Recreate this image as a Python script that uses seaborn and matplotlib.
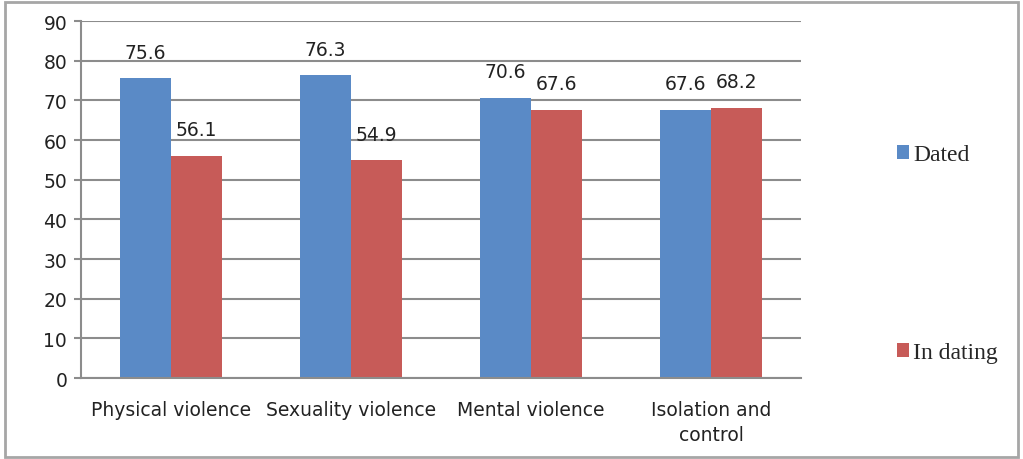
import matplotlib
matplotlib.use("Agg")
import matplotlib.pyplot as plt
import seaborn as sns
import pandas as pd
from matplotlib.patches import Rectangle

categories = ["Physical violence", "Sexuality violence", "Mental violence", "Isolation and\ncontrol"]
dated = [75.6, 76.3, 70.6, 67.6]
in_dating = [56.1, 54.9, 67.6, 68.2]
series_names = ["Dated", "In dating"]
colors = ["#5A8AC6", "#C75B58"]
yticks = [0, 10, 20, 30, 40, 50, 60, 70, 80, 90]

df = pd.DataFrame({
    "category": categories * 2,
    "value": dated + in_dating,
    "series": [series_names[0]] * len(categories) + [series_names[1]] * len(categories),
})

sns.set_theme(style="white")
plt.rcParams['font.family'] = ['DejaVu Sans']

fig = plt.figure(figsize=(10.23, 4.6), dpi=100)
ax = fig.add_axes([0.0792, 0.176, 0.7038, 0.776])

sns.barplot(data=df, x="category", y="value", hue="series", palette=colors,
            width=0.567, ax=ax, legend=True, saturation=1, linewidth=0)

gray = "#8c8c8c"
txt = "#222222"
fs = 13.5
ax.set_ylim(0, 90)
ax.set_xlim(-0.5, 3.5)
ax.set_yticks(yticks)
ax.set_yticklabels([str(t) for t in yticks], fontsize=fs, color=txt)
for t in yticks:
    ax.axhline(t, color=gray, lw=1.5, zorder=0)

ax.set_xticks([-0.5, 0.5, 1.5, 2.5, 3.5])
ax.set_xticklabels([])
ax.set_xticks(range(len(categories)), minor=True)
ax.set_xticklabels(categories, minor=True, fontsize=fs, color=txt, linespacing=1.4)
ax.tick_params(axis="x", which="minor", length=0, pad=16)
ax.tick_params(axis="x", which="major", length=7, width=1.5, color=gray, direction="out")
ax.tick_params(axis="y", length=5, width=1.5, color=gray, direction="out", left=True, pad=5)
ax.set_xlabel("")
ax.set_ylabel("")
for s in ["top", "right"]:
    ax.spines[s].set_visible(False)
for s in ["left", "bottom"]:
    ax.spines[s].set_color(gray)
    ax.spines[s].set_linewidth(1.5)

for cont in ax.containers:
    for bar in cont:
        h = bar.get_height()
        ax.annotate(f"{h:.1f}", (bar.get_x() + bar.get_width() / 2, h),
                    xytext=(0, 12), textcoords="offset points",
                    ha="center", va="bottom", fontsize=fs, color=txt)

handles, labels = ax.get_legend_handles_labels()
ax.get_legend().remove()
fig.legend(handles, labels, loc="center left", bbox_to_anchor=(0.856, 0.446),
           frameon=False, prop={"family": "Liberation Serif", "size": 17},
           handlelength=0.5, handleheight=0.5, handletextpad=0.2, labelspacing=7.5)

fig.patches.append(Rectangle((5 / 1023, 2 / 460), 1013 / 1023, 455 / 460,
                             transform=fig.transFigure, fill=False,
                             edgecolor="#a6a6a6", lw=2))

fig.savefig("out.png", dpi=100)
